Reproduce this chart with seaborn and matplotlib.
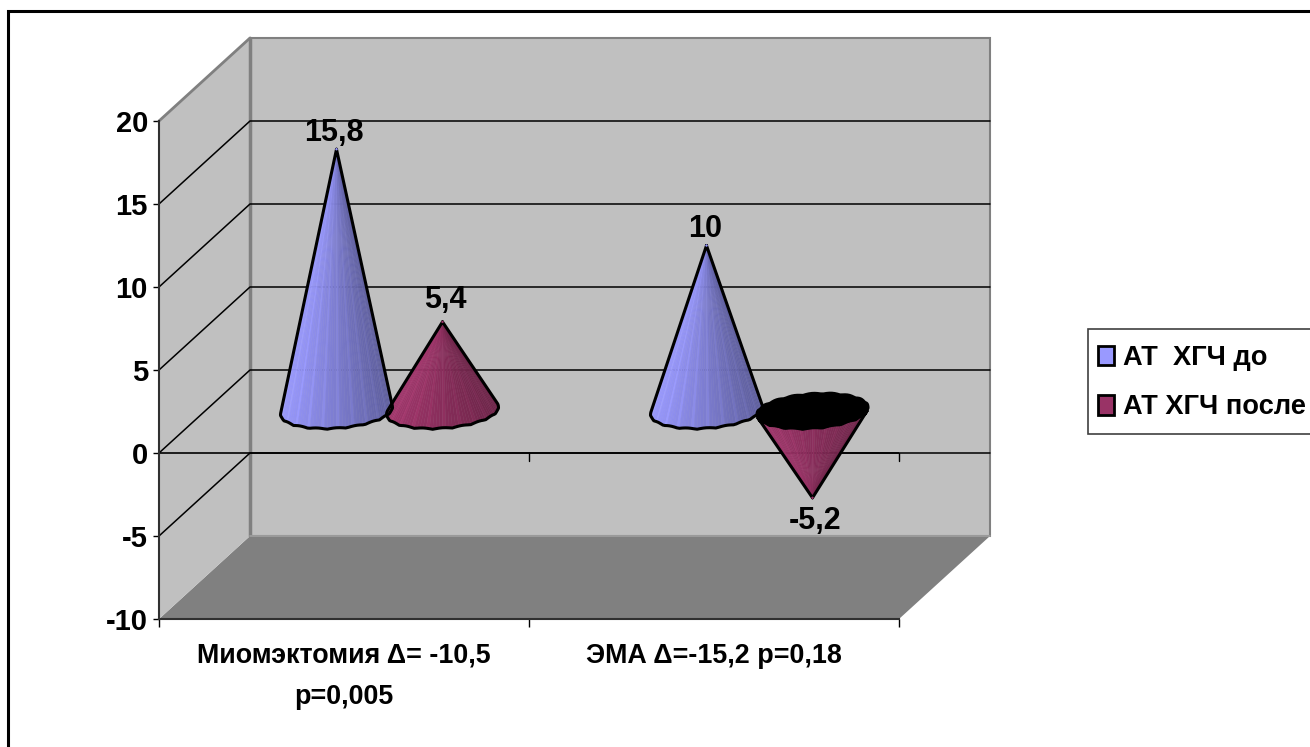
import numpy as np
import pandas as pd
import matplotlib
matplotlib.use('Agg')
import matplotlib.pyplot as plt
from matplotlib.collections import PolyCollection
from matplotlib.lines import Line2D
from matplotlib.patches import Patch, Polygon, Rectangle
from matplotlib.colors import to_rgb
import seaborn as sns

categories = ['Миомэктомия Δ= -10,5\np=0,005', 'ЭМА Δ=-15,2 p=0,18']
series_names = ['АТ  ХГЧ до', 'АТ ХГЧ после']
before = [15.8, 10]
after = [5.4, -5.2]
before_labels = ['15,8', '10']
after_labels = ['5,4', '-5,2']
y_ticks = [-10, -5, 0, 5, 10, 15, 20]
colors = ['#9999FF', '#993366']

W, H = 1310, 747
DX, DY = 91 / 370, 5.0   # depth of the 3d box in data units
RX, RY = 56 / 370, 1.05  # cone base radii
GAP = 53 / 370           # distance of a cone from the group centre

sns.set_theme(style='white')
plt.rcParams['font.family'] = ['Liberation Sans', 'DejaVu Sans']
plt.rcParams['font.weight'] = 'bold'


def depth(x, y, d):
    return x + d * DX, y + d * DY


def rim(cx, cy, t):
    # rough, slightly tilted circle like the faceted excel cone
    scallop = 0.07 * np.abs(np.sin(t * 9))
    return cx + RX * np.cos(t), cy + RY * np.sin(t) + 0.22 * np.cos(t) + scallop


def shade(rgb, t, light, dark):
    # t runs over the front of the cone, left side light, right side dark
    k = (np.cos(t) + 1) / 2
    base = np.array(rgb)
    return np.clip(base * (light * (1 - k) + dark * k), 0, 1)


def draw_cone(ax, x, value, color, light, dark):
    cx, cy = depth(x, 0, 0.5)
    tip = (cx, cy + value)
    sin0 = min(RY / abs(value), 1)
    t0 = np.arcsin(sin0) if value > 0 else -np.arcsin(sin0)
    ts = np.linspace(np.pi - t0, 2 * np.pi + t0, 61)
    rx, ry = rim(cx, cy, ts)
    rgb = to_rgb(color)
    polys, cols = [], []
    for i in range(len(ts) - 1):
        polys.append([tip, (rx[i], ry[i]), (rx[i + 1], ry[i + 1])])
        c = shade(rgb, (ts[i] + ts[i + 1]) / 2, light, dark)
        if i % 5 == 0:
            c = np.clip(c * 1.06, 0, 1)
        cols.append(c)
    ax.add_collection(PolyCollection(polys, facecolors=cols, edgecolors=cols, linewidths=0.3,
                                     zorder=5, clip_on=False))
    outline = np.column_stack([np.r_[tip[0], rx, tip[0]], np.r_[tip[1], ry, tip[1]]])
    ax.plot(outline[:, 0], outline[:, 1], color='black', lw=2.2, zorder=6, clip_on=False,
            solid_joinstyle='round')
    if value < 0:
        ta = np.linspace(0, 2 * np.pi, 120)
        ex, ey = rim(cx, cy, ta)
        ax.add_patch(Polygon(np.column_stack([ex, ey]), closed=True, facecolor='black',
                             edgecolor='black', lw=1.5, zorder=7, clip_on=False))


fig = plt.figure(figsize=(W / 100, H / 100), dpi=100, facecolor='white')
ax = fig.add_axes([159 / W, 1 - 619 / H, 740 / W, 498 / H])
ax.set_xlim(0, 2)
ax.set_ylim(-10, 20)
ax.patch.set_visible(False)

# walls and floor
wall = '#C0C0C0'
floor = '#808080'
ax.add_patch(Polygon([(0, -10), depth(0, -10, 1), depth(2, -10, 1), (2, -10)], closed=True,
                     facecolor=floor, edgecolor='none', zorder=1, clip_on=False))
ax.add_patch(Polygon([depth(0, -10, 1), depth(0, 20, 1), depth(2, 20, 1), depth(2, -10, 1)],
                     closed=True, facecolor=wall, edgecolor=floor, lw=1.5, zorder=1, clip_on=False))
ax.add_patch(Polygon([(0, -10), (0, 20), depth(0, 20, 1), depth(0, -10, 1)], closed=True,
                     facecolor=wall, edgecolor='none', zorder=1, clip_on=False))
ax.plot(*zip((0, 20), depth(0, 20, 1)), color=floor, lw=2, zorder=2, clip_on=False)
ax.plot(*zip(depth(0, -10, 1), depth(0, 20, 1)), color=floor, lw=2.5, zorder=2, clip_on=False)
ax.plot(*zip(depth(0, -10, 1), depth(2, -10, 1)), color='#A0A0A0', lw=1.2, zorder=2, clip_on=False)

# gridlines run over the left wall and the back wall
for v in y_ticks[1:-1]:
    pts = [(0, v), depth(0, v, 1), depth(2, v, 1)]
    ax.plot(*zip(*pts), color='black', lw=1.1, zorder=3, clip_on=False)
ax.plot([0, 2], [0, 0], color='black', lw=1.2, zorder=3)
for x in [1, 2]:
    ax.plot([x, x], [0, -0.5], color='black', lw=1, zorder=3, clip_on=False)

# cones
for i in range(len(categories)):
    draw_cone(ax, i + 0.5 - GAP, before[i], colors[0], 1.0, 0.62)
    draw_cone(ax, i + 0.5 + GAP, after[i], colors[1], 1.05, 0.72)

# cone tips and value labels
df = pd.DataFrame({
    'pos': [i + 0.5 - GAP for i in range(2)] + [i + 0.5 + GAP for i in range(2)],
    'value': before + after,
    'label': before_labels + after_labels,
    'series': [series_names[0]] * 2 + [series_names[1]] * 2,
})
df['tip_x'] = df['pos'] + 0.5 * DX
df['tip_y'] = df['value'] + 0.5 * DY
sns.scatterplot(data=df, x='tip_x', y='tip_y', hue='series', palette=colors, s=3, linewidth=0,
                legend=False, ax=ax, zorder=6, clip_on=False)
label_shift = {'15,8': (-2, 1), '10': (-1, 1), '5,4': (2, 5), '-5,2': (2, -6)}
for _, row in df.iterrows():
    ax.annotate(row['label'], (row['tip_x'], row['tip_y']), xytext=label_shift[row['label']],
                textcoords='offset points', ha='center',
                va='bottom' if row['value'] > 0 else 'top',
                fontsize=22, fontweight='bold', color='black', zorder=8)

# axes
ax.set_xlabel('')
ax.set_ylabel('')
ax.set_yticks(y_ticks)
ax.set_yticklabels([str(v) for v in y_ticks], fontsize=21, fontweight='bold', color='black')
ax.set_xticks([0, 1, 2])
ax.set_xticklabels([])
ax.set_xticks([0.5, 1.5], minor=True)
ax.set_xticklabels(categories, minor=True, fontsize=19.4, fontweight='bold', color='black', linespacing=1.75)
ax.tick_params(axis='y', length=4.5, width=1, left=True, color='black', pad=3.5)
ax.tick_params(axis='x', which='major', length=5.5, width=1, bottom=True, color='black')
ax.tick_params(axis='x', which='minor', length=0, pad=17)
sns.despine(ax=ax, top=True, right=True)
for s in ['left', 'bottom']:
    ax.spines[s].set_color('#303030')
    ax.spines[s].set_linewidth(1.5)
    ax.spines[s].set_zorder(4)

# legend, box drawn apart because it runs off the right edge
fig.add_artist(Rectangle((1088 / W, 1 - 434 / H), 240 / W, 105 / H, transform=fig.transFigure,
                         facecolor='white', edgecolor='#404040', lw=1.2))
handles = [Patch(facecolor=c, edgecolor='black', lw=2) for c in colors]
fig.legend(handles, series_names, loc='upper left', bbox_to_anchor=(1098 / W, 1 - 345 / H),
           frameon=False, handlelength=0.6, handleheight=0.75, handletextpad=0.33, labelspacing=0.85,
           borderpad=0, borderaxespad=0, labelcolor='black', prop={'weight': 'bold', 'size': 19.6})

# outer frame, only top and left stay inside the picture
fig.add_artist(Line2D([8 / W, 8 / W, 1], [0, 1 - 11 / H, 1 - 11 / H], transform=fig.transFigure,
                      color='black', lw=2.2, solid_joinstyle='miter'))

fig.savefig('out.png', dpi=100)
plt.close(fig)
